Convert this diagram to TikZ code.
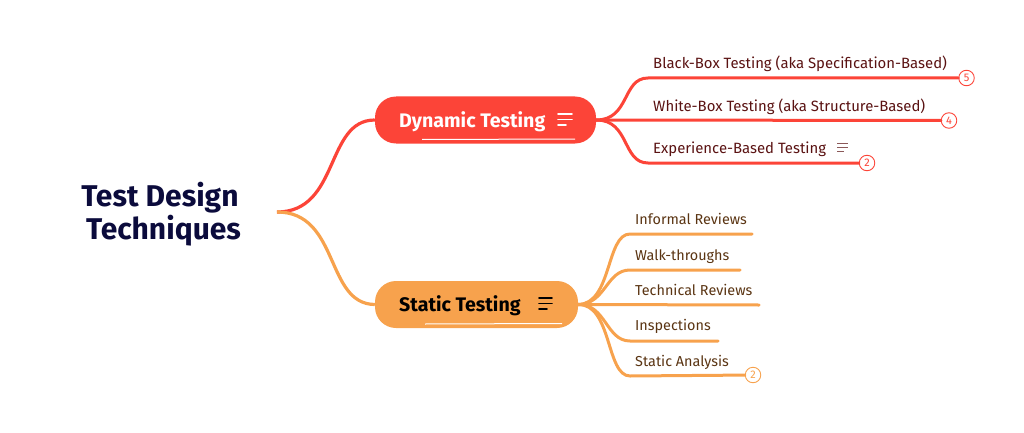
\documentclass[tikz,border=0pt]{standalone}
\usepackage{fontspec}
\setmainfont{Fira Sans}
\usepackage{tikz}

\definecolor{redbranch}{HTML}{FC4438}
\definecolor{orangebranch}{HTML}{F7A24D}
\definecolor{redtext}{HTML}{5A1212}
\definecolor{orangetext}{HTML}{5A3412}
\definecolor{roottext}{HTML}{0B0B3C}

\tikzset{
	rootlabel/.style = {align = center, text = roottext, font = \fontsize{30}{33}\selectfont\bfseries},
	topic/.style = {rectangle, rounded corners = 21pt, minimum height = 47pt, inner sep = 0pt},
	toplabel/.style = {anchor = west, inner sep = 0pt, text height = 17pt, text depth = 3pt,
		font = \fontsize{19.6}{22}\selectfont\bfseries},
	leaf/.style = {anchor = west, inner sep = 0pt, text height = 13pt, text depth = 3pt,
		font = \fontsize{14.9}{17}\selectfont},
	redleaf/.style = {leaf, text = redtext},
	orangeleaf/.style = {leaf, text = orangetext, font = \fontsize{14.4}{17}\selectfont},
	redline/.style = {draw = redbranch, line width = 3pt, line cap = round},
	orangeline/.style = {draw = orangebranch, line width = 3pt, line cap = round},
	count/.style = {circle, draw, fill = white, line width = 0.9pt, inner sep = 0pt,
		minimum size = 15.5pt, font = \fontsize{11}{13}\selectfont},
}

\begin{document}
\begin{tikzpicture}[x = 1pt, y = -1pt]
\useasboundingbox (0,0) rectangle (1024,433);

\node[rootlabel] (root) at (160,214.5) {Test Design\\ \ Techniques};
\coordinate (fork) at (277,212);

% main topics
\node[topic, fill = redbranch, minimum width = 221pt] (dynamic) at (485.5,120) {};
\node[toplabel, text = white] (dynamictext) at (399,120) {Dynamic Testing};
\node[topic, fill = orangebranch, minimum width = 203pt] (static) at (476.5,304.5) {};
\node[toplabel, text = black] (statictext) at (399,304.5) {Static Testing};

\draw[redbranch, line width = 3.2pt] (fork) .. controls (340,212) and (325,120) .. (dynamic.west);
\draw[orangebranch, line width = 3.2pt] (fork) .. controls (340,212) and (325,304) .. (static.west);

% white streaks on the topics
\draw[white, line width = 1pt] (422,139.5) -- (575,139);
\draw[white, line width = 1pt] (425,324) -- (562,323.5);

% dynamic testing leaves
\node[redleaf] (blackbox) at (653,64) {Black-Box Testing (aka Specification-Based)};
\node[redleaf] (whitebox) at (653,106) {White-Box Testing (aka Structure-Based)};
\node[redleaf] (experience) at (653,148) {Experience-Based Testing};

\node[count, draw = redbranch, text = redbranch] (blackcount) at (966.5,78) {5};
\node[count, draw = redbranch, text = redbranch] (whitecount) at (949,120.5) {4};
\node[count, draw = redbranch, text = redbranch] (expcount) at (867,163) {2};

\draw[redline] (dynamic.east) .. controls (630,120) and (622,78) .. (648,78) -- (blackcount);
\draw[redline] (dynamic.east) -- (whitecount);
\draw[redline] (dynamic.east) .. controls (630,120) and (622,163) .. (648,163) -- (expcount);

% static testing leaves
\node[orangeleaf] (informal) at (635,219) {Informal Reviews};
\node[orangeleaf] (walk) at (635,255) {Walk-throughs};
\node[orangeleaf] (technical) at (635,290) {Technical Reviews};
\node[orangeleaf] (inspect) at (635,325) {Inspections};
\node[orangeleaf] (analysis) at (635,361) {Static Analysis};

\coordinate (informalend) at (752,234);
\coordinate (walkend) at (740,270);
\coordinate (technicalend) at (759,305);
\coordinate (inspectend) at (718,341);
\node[count, draw = orangebranch, text = orangebranch] (analysiscount) at (753,375) {2};

\draw[orangeline] (static.east) .. controls (612,304) and (606,234) .. (630,234) -- (informalend);
\draw[orangeline] (static.east) .. controls (606,304) and (606,270) .. (630,270) -- (walkend);
\draw[orangeline] (static.east) -- (technicalend);
\draw[orangeline] (static.east) .. controls (606,304) and (606,341) .. (630,341) -- (inspectend);
\draw[orangeline] (static.east) .. controls (612,304) and (606,376) .. (630,376) -- (analysiscount);

% note icons
\draw[white, line width = 1.8pt, line cap = round] (558,114) -- (572,114) (558,119.5) -- (572,119.5) (558,125) -- (566,125);
\draw[black, line width = 1.8pt, line cap = round] (539,298) -- (552,298) (539,303.5) -- (552,303.5) (539,309) -- (547,309);
\draw[redtext!70, line width = 0.8pt] (837,143) -- (848,143) (837,147) -- (848,147) (837,151) -- (844,151);
\end{tikzpicture}
\end{document}
